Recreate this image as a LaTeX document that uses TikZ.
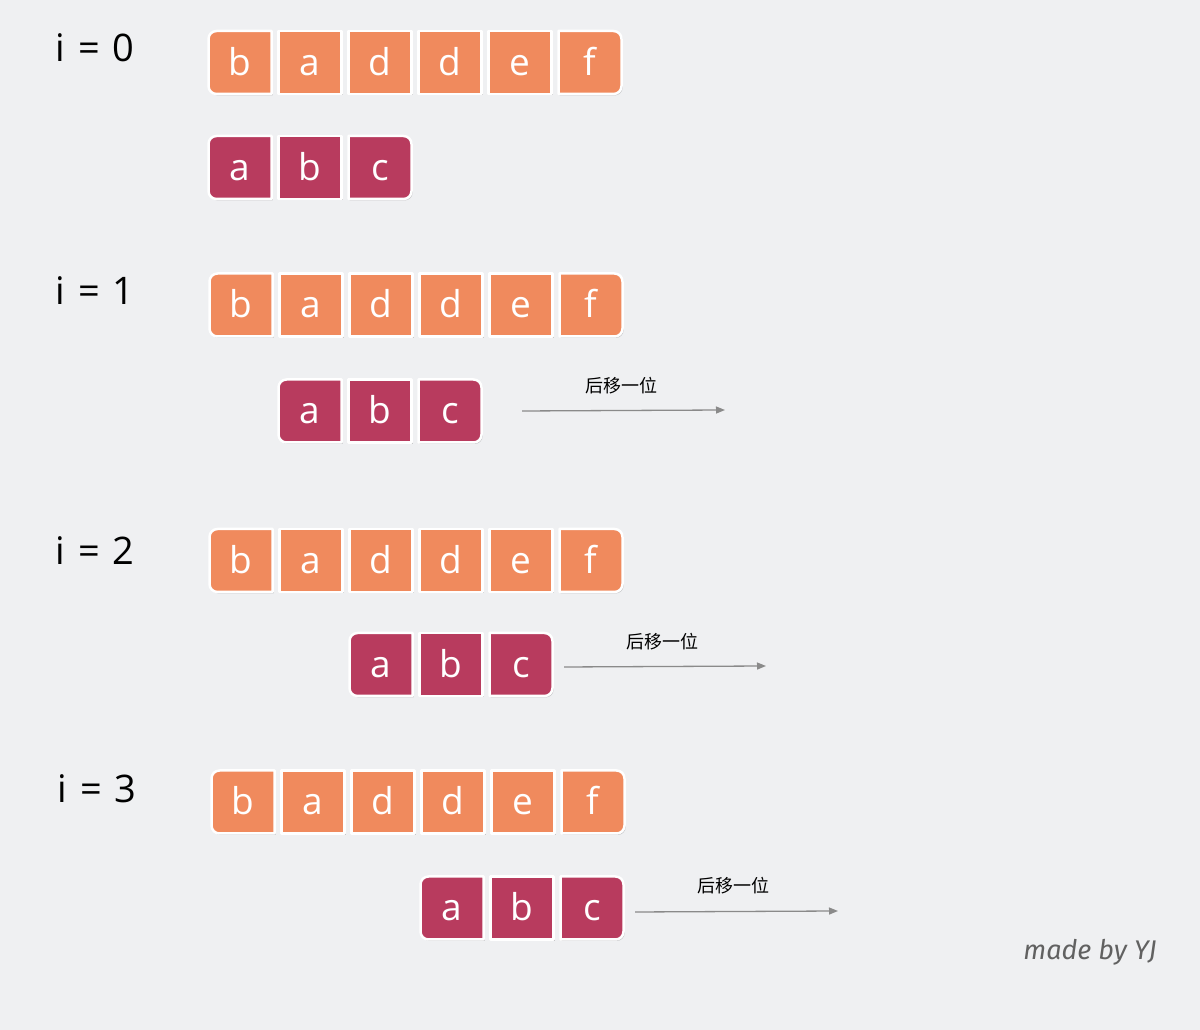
\documentclass[tikz,border=0pt]{standalone}
\usepackage{fontspec}
\setmainfont{Open Sans}
\newfontfamily\cjk{Noto Sans CJK SC}
\newfontfamily\sigfont{Fira Sans}
\usetikzlibrary{backgrounds,shadows,arrows.meta,calc}
\definecolor{bgc}{HTML}{EFF0F2}
\definecolor{orng}{HTML}{F08A5D}
\definecolor{magn}{HTML}{B83B5E}
\definecolor{arrc}{HTML}{8A8A8A}
\tikzset{
  celltext/.style={draw=none, fill=none, minimum width=63pt, minimum height=63pt, inner sep=0pt, outer sep=0pt, text height=26pt, text depth=0pt, text=white, font=\fontsize{37}{40}\selectfont},
  cellshape/.style={draw=white, line width=2.5pt, line join=round, drop shadow={shadow xshift=1.2pt, shadow yshift=-1.5pt, opacity=0.18, fill=black}},
  steplabel/.style={font=\fontsize{38}{42}\selectfont, text=black},
  shiftlabel/.style={font=\cjk\fontsize{18}{21}\selectfont, text=black},
  shiftarrow/.style={draw=arrc, line width=1.3pt, -{Triangle[length=9pt,width=7pt]}},
}
\newcommand\cellrow[5]{% prefix, x of first centre, y centre, colour, letters
  \foreach \l [count=\k] in {#5} {
    \node[celltext] (#1\k) at ({#2+70*(\k-1)},#3) {\l};
  }
  \begin{pgfonlayer}{background}
  \foreach \l [count=\k] in {#5} {
    \ifnum\k=1
      \path[cellshape, fill=#4] (#1\k.north east) -- ($(#1\k.north west)+(8,0)$)
        arc[start angle=90, end angle=180, radius=8] -- ($(#1\k.south west)+(0,8)$)
        arc[start angle=180, end angle=270, radius=8] -- (#1\k.south east) -- cycle;
    \else
      \path[cellshape, fill=#4] (#1\k.south west) rectangle (#1\k.north east);
    \fi
  }
  \end{pgfonlayer}
}
\newcommand\lastcell[2]{% node, colour
  \begin{pgfonlayer}{background}
    \path[cellshape, fill=#2] (#1.north west) -- ($(#1.north east)+(-8,0)$)
      arc[start angle=90, end angle=0, radius=8] -- ($(#1.south east)+(0,8)$)
      arc[start angle=0, end angle=-90, radius=8] -- (#1.south west) -- cycle;
  \end{pgfonlayer}
}
\newcommand\stepname[1]{i\hspace{13pt}=\hspace{12pt}#1}
\begin{document}
\begin{tikzpicture}[x=1pt,y=1pt]
\useasboundingbox (0,0) rectangle (1200,1030);
\begin{pgfonlayer}{background}
\fill[bgc] (0,0) rectangle (1200,1030);
\end{pgfonlayer}

% step labels
\node[steplabel] (l0) at (95,982) {\stepname{0}};
\node[steplabel] (l1) at (95,739) {\stepname{1}};
\node[steplabel] (l2) at (95,479) {\stepname{2}};
\node[steplabel] (l3) at (97,241) {\stepname{3}};

% rows (last cells drawn separately with rounded right corners)
\cellrow{sa}{240}{967.5}{orng}{b,a,d,d,e}
\node[celltext] (sa6) at (590,967.5) {f}; \lastcell{sa6}{orng}
\cellrow{pa}{240}{862.5}{magn}{a,b}
\node[celltext] (pa3) at (380,862.5) {c}; \lastcell{pa3}{magn}

\cellrow{sb}{241}{725}{orng}{b,a,d,d,e}
\node[celltext] (sb6) at (591,725) {f}; \lastcell{sb6}{orng}
\cellrow{pb}{310}{619}{magn}{a,b}
\node[celltext] (pb3) at (450,619) {c}; \lastcell{pb3}{magn}

\cellrow{sc}{241}{469.5}{orng}{b,a,d,d,e}
\node[celltext] (sc6) at (591,469.5) {f}; \lastcell{sc6}{orng}
\cellrow{pc}{381}{365.5}{magn}{a,b}
\node[celltext] (pc3) at (521,365.5) {c}; \lastcell{pc3}{magn}

\cellrow{sd}{243}{228}{orng}{b,a,d,d,e}
\node[celltext] (sd6) at (593,228) {f}; \lastcell{sd6}{orng}
\cellrow{pd}{452}{122}{magn}{a,b}
\node[celltext] (pd3) at (592,122) {c}; \lastcell{pd3}{magn}

% shift arrows
\coordinate (a1s) at (522,619); \coordinate (a1e) at (725,620);
\draw[shiftarrow] (a1s) -- (a1e);
\node[shiftlabel] (t1) at (621,644) {后移一位};
\coordinate (a2s) at (564,363); \coordinate (a2e) at (766,364);
\draw[shiftarrow] (a2s) -- (a2e);
\node[shiftlabel] (t2) at (662,388) {后移一位};
\coordinate (a3s) at (635,118); \coordinate (a3e) at (838,119);
\draw[shiftarrow] (a3s) -- (a3e);
\node[shiftlabel] (t3) at (733,144) {后移一位};

% signature
\node[font=\sigfont\itshape\fontsize{27}{30}\selectfont, text=black!62] (sig) at (1090,78) {made by YJ};
\end{tikzpicture}
\end{document}
